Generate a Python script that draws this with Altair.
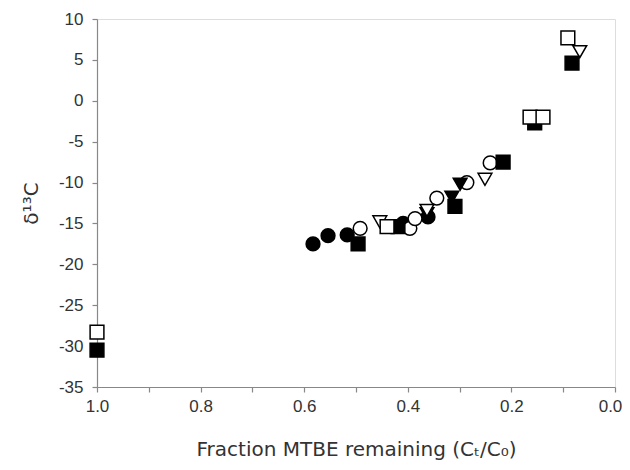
import altair as alt
import pandas as pd

# series values
fsq_x = [1.0, 0.496, 0.419, 0.309, 0.216, 0.155, 0.083]
fsq_y = [-30.5, -17.5, -15.4, -12.9, -7.5, -2.7, 4.6]
osq_x = [1.0, 0.44, 0.164, 0.139, 0.091]
osq_y = [-28.3, -15.4, -2.0, -2.0, 7.7]
fci_x = [0.583, 0.554, 0.517, 0.409, 0.361]
fci_y = [-17.5, -16.5, -16.4, -15.0, -14.2]
oci_x = [0.492, 0.396, 0.386, 0.344, 0.286, 0.241]
oci_y = [-15.6, -15.6, -14.4, -11.9, -10.0, -7.6]
ftr_x = [0.363, 0.315, 0.299]
ftr_y = [-13.8, -11.8, -10.2]
otr_x = [0.454, 0.363, 0.251, 0.068]
otr_y = [-14.8, -13.4, -9.6, 6.0]

series = [
    ("filled circle", "circle", "#000000", fci_x, fci_y),
    ("open circle", "circle", "#ffffff", oci_x, oci_y),
    ("filled triangle", "triangle-down", "#000000", ftr_x, ftr_y),
    ("open triangle", "triangle-down", "#ffffff", otr_x, otr_y),
    ("filled square", "square", "#000000", fsq_x, fsq_y),
    ("open square", "square", "#ffffff", osq_x, osq_y),
]

rows = []
for i, (name, shape, fill, xs, ys) in enumerate(series):
    for x, y in zip(xs, ys):
        rows.append({"series": name, "x": x, "y": y, "order": i})
df = pd.DataFrame(rows)

names = [s[0] for s in series]
shapes = [s[1] for s in series]
fills = [s[2] for s in series]

x_ticks = [1.0, 0.9, 0.8, 0.7, 0.6, 0.5, 0.4, 0.3, 0.2, 0.1, 0.0]
y_ticks = [-35, -30, -25, -20, -15, -10, -5, 0, 5, 10]

axis_common = dict(
    domainColor="#888888", tickColor="#888888", labelColor="#333333",
    titleColor="#333333", labelFont="Liberation Sans", titleFont="DejaVu Sans",
    labelFontSize=17, titleFontSize=20, titleFontWeight="normal", grid=False,
    tickSize=5, domainWidth=1.2, tickWidth=1.2, labelFlush=False,
)

chart = alt.Chart(df).mark_point(filled=False, size=190, strokeWidth=1.5, opacity=1, stroke="black").encode(
    x=alt.X("x:Q", scale=alt.Scale(domain=[1.0, 0.0], nice=False, zero=False),
            axis=alt.Axis(title="Fraction MTBE remaining (Cₜ/C₀)", values=x_ticks,
                          labelExpr="(round(datum.value*10) % 2 == 0) ? format(datum.value, '.1f') : ''",
                          labelOffset=alt.ExprRef("datum.value == 0 ? -5 : 0"),
                          labelPadding=6, titlePadding=25, **axis_common)),
    y=alt.Y("y:Q", scale=alt.Scale(domain=[-35, 10], nice=False, zero=False),
            axis=alt.Axis(title="δ¹³C", values=y_ticks, labelExpr="'' + datum.value",
                          labelPadding=9, titlePadding=17, **axis_common)),
    shape=alt.Shape("series:N", scale=alt.Scale(domain=names, range=shapes), legend=None),
    fill=alt.Fill("series:N", scale=alt.Scale(domain=names, range=fills), legend=None),
    order=alt.Order("order:Q"),
).properties(
    width=518, height=368,
    autosize=alt.AutoSizeParams(type="none"),
    padding={"left": 89, "top": 11, "right": 7, "bottom": 75},
).configure_view(stroke="#888888", strokeWidth=1.2).configure(background="white")

chart.save("out.html", embed_options={"renderer": "svg", "actions": False})
